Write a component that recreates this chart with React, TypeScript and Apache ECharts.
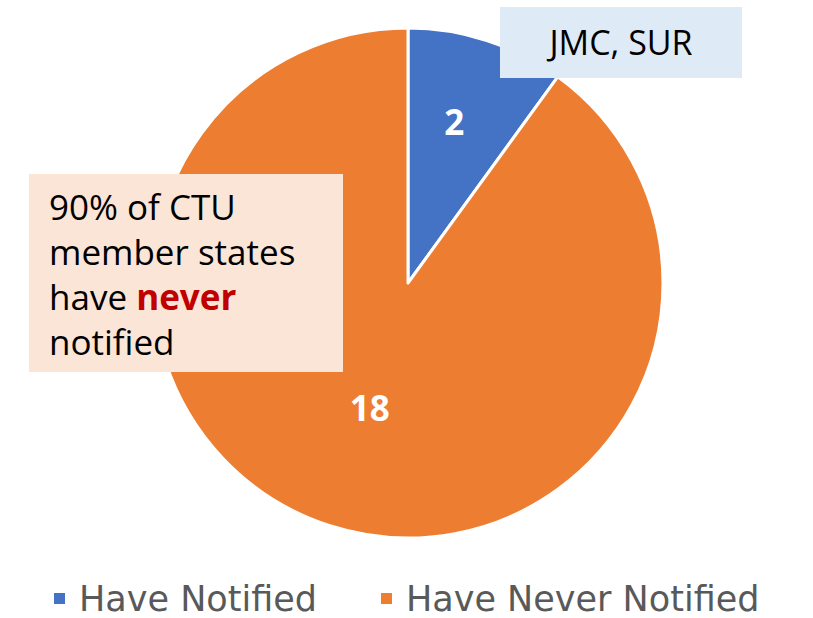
import React, { useEffect, useRef } from "react";
import * as echarts from "echarts";

const categories = ["Have Notified", "Have Never Notified"];
const values = [2, 18];
const colors = ["#4472C4", "#ED7D31"];
const calloutTop = "JMC, SUR";
const calloutLines = ["90% of CTU", "member states", "have {r|never}", "notified"];

export default function App() {
  const ref = useRef<HTMLDivElement>(null);
  useEffect(() => {
    document.body.style.margin = "0";
    const chart = echarts.init(ref.current!, undefined, { renderer: "svg" });
    chart.setOption({
      animation: false,
      backgroundColor: "#ffffff",
      color: colors,
      legend: {
        top: 576,
        left: 47,
        itemWidth: 13,
        itemHeight: 13,
        itemGap: 62,
        icon: "rect",
        textStyle: { fontFamily: "DejaVu Sans", fontSize: 35, lineHeight: 35, color: "#595959", padding: [0, 0, 0, 8] },
        data: categories,
      },
      series: [
        {
          type: "pie",
          center: [408, 283],
          radius: 255,
          startAngle: 90,
          clockwise: true,
          itemStyle: { borderColor: "#ffffff", borderWidth: 3 },
          label: {
            show: true,
            position: "inside",
            formatter: "{c}",
            color: "#ffffff",
            fontFamily: "Open Sans",
            fontWeight: "bold",
            fontSize: 35,
          },
          labelLayout: (p: any) => (p.dataIndex === 0 ? { dx: 6, dy: -37 } : { dx: 2, dy: 0 }),
          labelLine: { show: false },
          emphasis: { disabled: true },
          data: categories.map((n, i) => ({ name: n, value: values[i] })),
        },
      ],
      graphic: [
        {
          type: "rect",
          z: 100,
          shape: { x: 500, y: 7, width: 242, height: 71 },
          style: { fill: "#DEEAF6" },
        },
        {
          type: "text",
          z: 101,
          x: 621,
          y: 42,
          style: {
            text: calloutTop,
            fontFamily: "Open Sans",
            fontSize: 34,
            fill: "#000000",
            textAlign: "center",
            textVerticalAlign: "middle",
          },
        },
        {
          type: "rect",
          z: 100,
          shape: { x: 29, y: 174, width: 314, height: 198 },
          style: { fill: "#FBE5D6" },
        },
        {
          type: "text",
          z: 101,
          x: 49,
          y: 274,
          style: {
            text: calloutLines.join("\n"),
            fontFamily: "Open Sans",
            fontSize: 35,
            lineHeight: 45,
            fill: "#000000",
            textAlign: "left",
            textVerticalAlign: "middle",
            rich: {
              r: { fontFamily: "Open Sans", fontSize: 35, fontWeight: "bold", fill: "#C00000", lineHeight: 45 },
            },
          },
        },
      ],
    });
    return () => chart.dispose();
  }, []);
  return <div ref={ref} style={{ width: 813, height: 618 }} />;
}
